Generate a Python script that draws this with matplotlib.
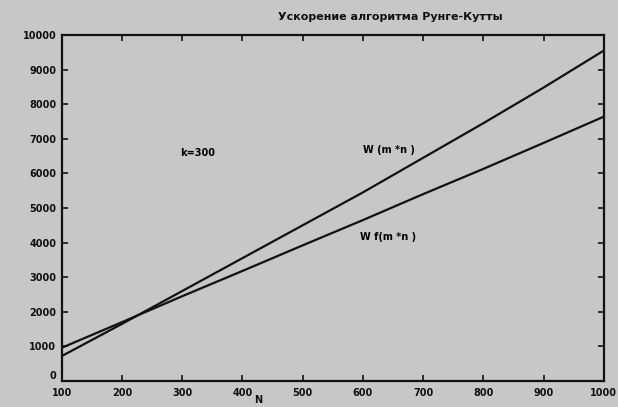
import matplotlib.pyplot as plt

# данные
n = [100, 200, 300, 400, 500, 600, 700, 800, 900, 1000]
w_mn = [720, 1650, 2600, 3550, 4500, 5450, 6450, 7450, 8480, 9550]
wf_mn = [960, 1700, 2450, 3180, 3920, 4650, 5400, 6130, 6880, 7640]

x_ticks = [100, 200, 300, 400, 500, 600, 700, 800, 900, 1000]
y_ticks = [0, 1000, 2000, 3000, 4000, 5000, 6000, 7000, 8000, 9000, 10000]

bg = '#c7c7c7'
fig = plt.figure(figsize=(6.18, 4.07), dpi=100, facecolor=bg)
ax = fig.add_axes([0.100, 0.064, 0.877, 0.850], facecolor=bg)

ax.plot(n, w_mn, color='#111111', lw=1.6)
ax.plot(n, wf_mn, color='#111111', lw=1.6)

ax.set_xlim(100, 1000)
ax.set_ylim(0, 10000)
ax.set_xticks(x_ticks)
ax.set_yticks(y_ticks)
ax.tick_params(direction='in', top=True, right=True, length=4, width=1.2,
               labelsize=7, colors='#111111')
ax.tick_params(axis='x', pad=5)
ax.tick_params(axis='y', pad=4)
for lab in ax.get_xticklabels() + ax.get_yticklabels():
    lab.set_fontweight('bold')
ax.get_yticklabels()[0].set_va('bottom')
for s in ax.spines.values():
    s.set_linewidth(1.6)
    s.set_color('#111111')

ax.text(296, 6590, 'k=300', fontsize=7, fontweight='bold', va='center')
ax.text(600, 6680, 'W (m *n )', fontsize=7, fontweight='bold', va='center')
ax.text(596, 4160, 'W f(m *n )', fontsize=7, fontweight='bold', va='center')

fig.text(0.631, 0.958, 'Ускорение алгоритма Рунге-Кутты', fontsize=8,
         fontweight='bold', ha='center', va='center', color='#111111')
fig.text(0.418, 0.005, 'N', fontsize=7, fontweight='bold', ha='center',
         va='bottom', color='#111111')

fig.savefig('out.png', dpi=100, facecolor=bg)
